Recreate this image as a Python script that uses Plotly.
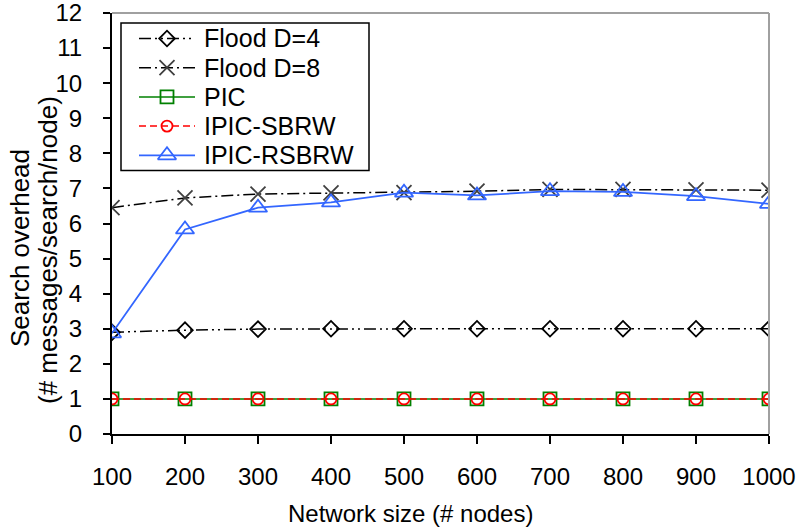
import plotly.graph_objects as go

# ---------------- data ----------------
sizes = [100, 200, 300, 400, 500, 600, 700, 800, 900, 1000]
flood_d4 = [2.9, 2.96, 2.99, 3.0, 3.0, 3.0, 3.0, 3.0, 3.0, 3.0]
flood_d8 = [6.45, 6.73, 6.84, 6.87, 6.88, 6.92, 6.97, 6.97, 6.96, 6.95]
pic = [1.0, 1.0, 1.0, 1.0, 1.0, 1.0, 1.0, 1.0, 1.0, 1.0]
ipic_sbrw = [1.0, 1.0, 1.0, 1.0, 1.0, 1.0, 1.0, 1.0, 1.0, 1.0]
ipic_rsbrw = [2.87, 5.83, 6.45, 6.6, 6.88, 6.8, 6.92, 6.9, 6.78, 6.56]
series_names = ["Flood D=4", "Flood D=8", "PIC", "IPIC-SBRW", "IPIC-RSBRW"]
y_ticks = list(range(0, 13))
x_tick_labels = [str(s) for s in sizes]

# ---------------- styles ----------------
W, H = 799, 527
ML, MR, MT, MB = 112, 30, 13, 93
PW, PH = W - ML - MR, H - MT - MB

def px_x(p):
    return (p - ML) / PW

def px_y(p):
    return (H - MB - p) / PH

styles = [
    dict(line=dict(color="black", width=1.5, dash="12px,4px,2px,4px,2px,4px"),
         marker=dict(symbol="diamond-open", size=12, color="black", line=dict(width=1.8))),
    dict(line=dict(color="black", width=1.5, dash="12px,4px,2px,4px"),
         marker=dict(symbol="x-thin-open", size=15, color="#404040", line=dict(width=1.8, color="#404040"))),
    dict(line=dict(color="#008000", width=1.5),
         marker=dict(symbol="square-open", size=13, color="#008000", line=dict(width=1.8))),
    dict(line=dict(color="#FF0000", width=1.5, dash="7px,4px"),
         marker=dict(symbol="circle-open", size=11, color="#FF0000", line=dict(width=1.8))),
    dict(line=dict(color="#3366FF", width=1.8),
         marker=dict(symbol="triangle-up-open", size=16, color="#3366FF", line=dict(width=1.8))),
]
series_values = [flood_d4, flood_d8, pic, ipic_sbrw, ipic_rsbrw]

fig = go.Figure()
for name, vals, st in zip(series_names, series_values, styles):
    fig.add_trace(go.Scatter(x=sizes, y=vals, name=name, mode="lines+markers",
                             line=st["line"], marker=st["marker"], showlegend=False))

# ---------------- manual legend (decoration on overlay axes in plot-fraction units) ----------------
leg_row_px = [38.5, 67.7, 96.9, 126.1, 155.3]
leg_line_px = (139, 195)
leg_marker_px = 167
leg_text_px = 202
annotations = []
for name, st, ry in zip(series_names, styles, leg_row_px):
    yy = px_y(ry)
    fig.add_trace(go.Scatter(x=[px_x(leg_line_px[0]), px_x(leg_line_px[1])], y=[yy, yy],
                             mode="lines", line=st["line"], xaxis="x2", yaxis="y2",
                             showlegend=False, hoverinfo="skip"))
    fig.add_trace(go.Scatter(x=[px_x(leg_marker_px)], y=[yy], mode="markers",
                             marker=st["marker"], xaxis="x2", yaxis="y2",
                             showlegend=False, hoverinfo="skip"))
    annotations.append(dict(text=name, x=px_x(leg_text_px), y=yy, xref="paper", yref="paper",
                            xanchor="left", yanchor="middle", showarrow=False,
                            font=dict(size=25)))

# axis titles
annotations.append(dict(text="Network size (# nodes)", x=px_x(410), y=px_y(513),
                        xref="paper", yref="paper", xanchor="center", yanchor="middle",
                        showarrow=False, font=dict(size=24)))
annotations.append(dict(text="Search overhead", x=px_x(20), y=px_y(248), textangle=-90,
                        xref="paper", yref="paper", xanchor="center", yanchor="middle",
                        showarrow=False, font=dict(size=26)))
annotations.append(dict(text="(# messages/search/node)", x=px_x(48), y=px_y(250), textangle=-90,
                        xref="paper", yref="paper", xanchor="center", yanchor="middle",
                        showarrow=False, font=dict(size=26)))

font = dict(family="Liberation Sans, Arial, sans-serif", size=24, color="black")
fig.update_layout(
    width=W, height=H,
    margin=dict(l=ML, r=MR, t=MT, b=MB, autoexpand=False),
    paper_bgcolor="white", plot_bgcolor="white",
    font=font,
    showlegend=False,
    xaxis=dict(range=[100, 1000], tickvals=sizes, ticktext=x_tick_labels,
               showgrid=False, zeroline=False, showline=True, linecolor="black", linewidth=2,
               ticks="outside", ticklen=8, tickwidth=1.5, tickcolor="black",
               ticklabelstandoff=12, automargin=False, ticklabeloverflow="allow",
               tickfont=dict(size=24)),
    yaxis=dict(range=[0, 12], tickvals=y_ticks, showgrid=False, zeroline=False,
               showline=True, linecolor="black", linewidth=2,
               ticks="outside", ticklen=7, tickwidth=1.5, tickcolor="black",
               ticklabelstandoff=16, automargin=False, ticklabeloverflow="allow",
               tickfont=dict(size=24)),
    xaxis2=dict(range=[0, 1], overlaying="x", anchor="y2", visible=False, fixedrange=True),
    yaxis2=dict(range=[0, 1], overlaying="y", anchor="x2", visible=False, fixedrange=True),
    annotations=annotations,
    shapes=[
        dict(type="line", xref="paper", yref="paper", x0=0, x1=1, y0=1, y1=1,
             line=dict(color="#A0A0A0", width=2)),
        dict(type="line", xref="paper", yref="paper", x0=1, x1=1, y0=0, y1=1,
             line=dict(color="#A0A0A0", width=2)),
        dict(type="rect", xref="paper", yref="paper", layer="below",
             x0=px_x(121), x1=px_x(369), y0=px_y(170.5), y1=px_y(23),
             line=dict(color="black", width=1.5), fillcolor="white"),
    ],
)
fig.write_html("out.html")
